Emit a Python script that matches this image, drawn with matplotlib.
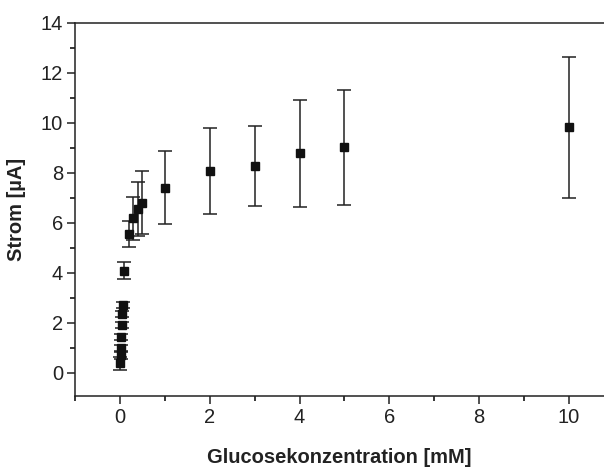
import matplotlib.pyplot as plt
from matplotlib.ticker import MultipleLocator

# Glucose concentration [mM] and current [uA] with error bars
conc = [0.01, 0.015, 0.02, 0.03, 0.04, 0.05, 0.06, 0.1, 0.2, 0.3, 0.4, 0.5, 1, 2, 3, 4, 5, 10]
strom = [0.37, 0.71, 0.97, 1.44, 1.91, 2.33, 2.71, 4.08, 5.54, 6.17, 6.54, 6.80, 7.40, 8.07, 8.25, 8.77, 9.01, 9.82]
fehler = [0.25, 0.15, 0.15, 0.12, 0.12, 0.12, 0.12, 0.35, 0.52, 0.85, 1.07, 1.25, 1.46, 1.72, 1.60, 2.15, 2.30, 2.82]

plt.rcParams['font.family'] = ['Liberation Sans', 'DejaVu Sans']

fig = plt.figure(figsize=(6.04, 4.67), dpi=100)
ax = fig.add_axes([0.1242, 0.151, 0.8758, 0.8004])

ax.errorbar(conc, strom, yerr=fehler, fmt='s', color='#111111', ecolor='#222222',
            markersize=5.5, elinewidth=1.1, capsize=5, capthick=1.1)

ax.set_xlim(-1, 10.78)
ax.set_ylim(-0.95, 14)
ax.xaxis.set_major_locator(MultipleLocator(2))
ax.xaxis.set_minor_locator(MultipleLocator(1))
ax.yaxis.set_major_locator(MultipleLocator(2))
ax.yaxis.set_minor_locator(MultipleLocator(1))
ax.tick_params(which='major', direction='out', length=5.5, width=1.1, labelsize=14.5,
               colors='#222222', pad=3)
ax.tick_params(which='minor', direction='out', length=3.5, width=1.1)
ax.spines['right'].set_visible(False)
for s in ['left', 'bottom', 'top']:
    ax.spines[s].set_linewidth(1.1)
    ax.spines[s].set_color('#222222')

ax.set_xlabel('Glucosekonzentration [mM]', fontsize=14.5, fontweight='bold', color='#222222', labelpad=15)
ax.set_ylabel('Strom [µA]', fontsize=14.5, fontweight='bold', color='#222222', labelpad=11)

fig.savefig('out.png', dpi=100)
